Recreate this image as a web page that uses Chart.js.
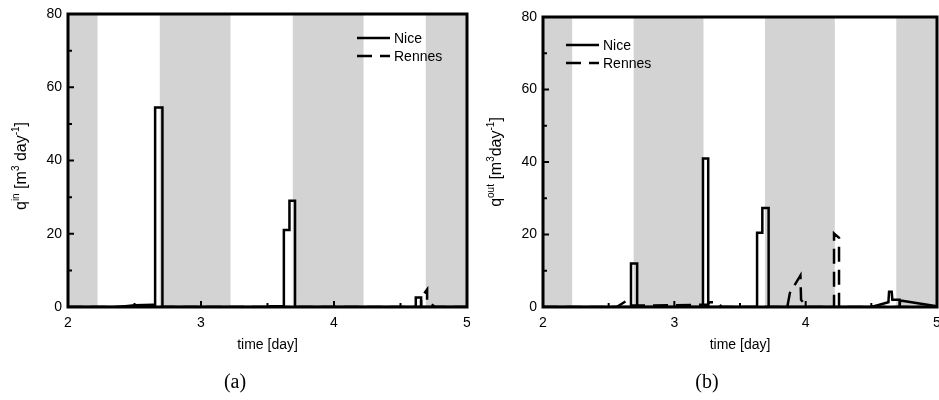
<!DOCTYPE html>
<html>
<head>
<meta charset="utf-8">
<script src="https://cdn.jsdelivr.net/npm/chart.js@4.4.0/dist/chart.umd.min.js"></script>
<style>
  body { margin: 0; background: #fff; }
  canvas { position: absolute; top: 0; }
  #chartIn  { left: 0; }
  #chartOut { left: 470px; }
</style>
</head>
<body>
<canvas id="chartIn" width="470" height="400"></canvas>
<canvas id="chartOut" width="469" height="400"></canvas>
<script>
// Time axis [day] and night-time shading
const nightStart  = [2.0, 2.69, 3.69, 4.69];
const nightEnd    = [2.222, 3.222, 4.222, 5.0];
const xTicks      = [2, 3, 4, 5];
const xMinorTicks = [2.5, 3.5, 4.5];
const yTicks      = [0, 20, 40, 60, 80];
const yMinorTicks = [10, 30, 50, 70];

// Inflow q_in [m3/day]
const niceInX   = [2.0, 2.36, 2.45, 2.5, 2.64, 2.655, 2.655, 2.71, 2.71, 3.5, 3.52, 3.623, 3.623, 3.665, 3.665, 3.707, 3.707, 4.615, 4.615, 4.655, 4.655, 5.0];
const niceInY   = [0, 0, 0.3, 0.5, 0.6, 0.6, 54.5, 54.5, 0, 0, 0.2, 0.2, 21, 21, 29, 29, 0, 0, 2.6, 2.6, 0, 0];
const rennesInX = [2.0, 4.655, 4.655, 4.70, 4.70, 4.715, 4.76, 5.0];
const rennesInY = [0, 0, 2.6, 4.8, 1.2, 1.2, 0, 0];

// Outflow q_out [m3/day]
const niceOutX   = [2.0, 2.67, 2.67, 2.717, 2.717, 3.218, 3.218, 3.258, 3.258, 3.63, 3.63, 3.67, 3.67, 3.718, 3.718, 4.5, 4.63, 4.635, 4.655, 4.66, 4.715, 4.715, 4.72, 5.0];
const niceOutY   = [0, 0, 12, 12, 0, 0, 41, 41, 0, 0, 20.5, 20.5, 27.3, 27.3, 0, 0, 1.3, 4.2, 4.2, 2.0, 2.0, 0.2, 1.8, 0.2];
const rennesOutX = [2.0, 2.56, 2.64, 2.66, 2.75, 3.2, 3.25, 3.27, 3.33, 3.36, 3.86, 3.88, 3.96, 3.965, 4.01, 4.216, 4.216, 4.254, 4.254, 5.0];
const rennesOutY = [0, 0, 1.8, 0.4, 0.4, 0.6, 0.6, 1.3, 1.3, 0, 0, 3.9, 8.7, 2.0, 0, 0, 20.3, 19.1, 0, 0];

const FONT = "'Liberation Sans', Arial, sans-serif";
Chart.defaults.font.family = FONT;
Chart.defaults.font.size = 14;
Chart.defaults.color = '#000';

const toPoints = (xs, ys) => xs.map((x, i) => ({ x: x, y: ys[i] }));

// Draws a label made of normal and superscript pieces, rotated for the y axis
function drawRotatedLabel(ctx, parts, cx, cy) {
  ctx.save();
  ctx.translate(cx, cy);
  ctx.rotate(-Math.PI / 2);
  ctx.fillStyle = '#000';
  ctx.textBaseline = 'alphabetic';
  const fontOf = p => (p[1] ? '10px ' : '16px ') + FONT;
  let total = 0;
  parts.forEach(p => { ctx.font = fontOf(p); total += ctx.measureText(p[0]).width; });
  let x = -total / 2;
  parts.forEach(p => {
    ctx.font = fontOf(p);
    ctx.fillText(p[0], x, p[1] ? -1 : 6);
    x += ctx.measureText(p[0]).width;
  });
  ctx.restore();
}

// Shading, frame, inward ticks, titles, legend and panel caption
const decorPlugin = {
  id: 'decor',
  beforeDatasetsDraw(chart, args, opts) {
    const { ctx, chartArea: a, scales: { x } } = chart;
    ctx.save();
    ctx.fillStyle = '#d3d3d3';
    nightStart.forEach((s, i) => {
      const x0 = x.getPixelForValue(s), x1 = x.getPixelForValue(nightEnd[i]);
      ctx.fillRect(x0, a.top, x1 - x0, a.bottom - a.top);
    });
    ctx.restore();
  },
  afterDatasetsDraw(chart, args, opts) {
    const { ctx, chartArea: a, scales: { x, y } } = chart;
    ctx.save();
    ctx.strokeStyle = '#000';
    ctx.lineWidth = 2;
    ctx.beginPath();
    xTicks.forEach(v => { const px = x.getPixelForValue(v); ctx.moveTo(px, a.bottom); ctx.lineTo(px, a.bottom - 6); });
    xMinorTicks.forEach(v => { const px = x.getPixelForValue(v); ctx.moveTo(px, a.bottom); ctx.lineTo(px, a.bottom - 4); });
    yTicks.forEach(v => { const py = y.getPixelForValue(v); ctx.moveTo(a.left, py); ctx.lineTo(a.left + 6, py); });
    yMinorTicks.forEach(v => { const py = y.getPixelForValue(v); ctx.moveTo(a.left, py); ctx.lineTo(a.left + 4, py); });
    ctx.stroke();
    ctx.lineWidth = 3;
    ctx.strokeRect(a.left, a.top, a.right - a.left, a.bottom - a.top);
    ctx.restore();
  },
  afterDraw(chart, args, opts) {
    const { ctx, chartArea: a } = chart;
    ctx.save();
    ctx.fillStyle = '#000';

    // axis titles
    drawRotatedLabel(ctx, opts.yTitle, opts.yTitleX, opts.yTitleY);
    ctx.font = '14px ' + FONT;
    ctx.textAlign = 'center';
    ctx.textBaseline = 'alphabetic';
    ctx.fillText('time [day]', (a.left + a.right) / 2, 349);

    // legend
    ctx.textAlign = 'left';
    ctx.textBaseline = 'middle';
    chart.data.datasets.forEach((ds, i) => {
      const ly = opts.legendY + i * 18;
      ctx.strokeStyle = '#000';
      ctx.lineWidth = 2.5;
      ctx.setLineDash(ds.borderDash || []);
      ctx.beginPath();
      ctx.moveTo(opts.legendX, ly);
      ctx.lineTo(opts.legendX + 33, ly);
      ctx.stroke();
      ctx.setLineDash([]);
      ctx.fillText(ds.label, opts.legendX + 37, ly + 1);
    });

    // panel caption
    ctx.font = "20px 'Liberation Serif', 'DejaVu Serif', serif";
    ctx.textAlign = 'center';
    ctx.textBaseline = 'middle';
    ctx.fillText(opts.caption, opts.captionX, 383);
    ctx.restore();
  }
};

function makeChart(id, nice, rennes, layout) {
  return new Chart(document.getElementById(id), {
    type: 'line',
    data: {
      datasets: [
        { label: 'Nice', data: nice, borderColor: '#000', borderWidth: 2.5, pointRadius: 0, tension: 0, borderJoinStyle: 'miter' },
        { label: 'Rennes', data: rennes, borderColor: '#000', borderWidth: 2.5, pointRadius: 0, tension: 0, borderDash: [15, 8] }
      ]
    },
    options: {
      responsive: false,
      animation: false,
      events: [],
      layout: { padding: { top: layout.top, right: layout.right, left: 0, bottom: 0 } },
      scales: {
        x: {
          type: 'linear', min: 2, max: 5,
          grid: { display: false, drawTicks: false },
          border: { display: false },
          ticks: { stepSize: 1, padding: 8, maxRotation: 0, autoSkip: false },
          afterFit: s => { s.height = 93; s.paddingLeft = 0; s.paddingRight = 0; }
        },
        y: {
          min: 0, max: 80,
          grid: { display: false, drawTicks: false },
          border: { display: false },
          ticks: { stepSize: 20, padding: 6 },
          afterFit: s => { s.width = layout.left; s.paddingTop = 0; s.paddingBottom = 0; }
        }
      },
      plugins: {
        legend: { display: false },
        tooltip: { enabled: false },
        decor: layout.decor
      }
    },
    plugins: [decorPlugin]
  });
}

makeChart('chartIn', toPoints(niceInX, niceInY), toPoints(rennesInX, rennesInY), {
  top: 14, right: 3, left: 68,
  decor: {
    yTitle: [['q', false], ['in', true], [' [m', false], ['3', true], [' day', false], ['-1', true], [']', false]],
    yTitleX: 20, yTitleY: 166,
    legendX: 357, legendY: 38,
    caption: '(a)', captionX: 235
  }
});

makeChart('chartOut', toPoints(niceOutX, niceOutY), toPoints(rennesOutX, rennesOutY), {
  top: 17, right: 2, left: 73,
  decor: {
    yTitle: [['q', false], ['out', true], [' [m', false], ['3', true], ['day', false], ['-1', true], [']', false]],
    yTitleX: 25, yTitleY: 162,
    legendX: 96, legendY: 45,
    caption: '(b)', captionX: 237
  }
});
</script>
</body>
</html>
